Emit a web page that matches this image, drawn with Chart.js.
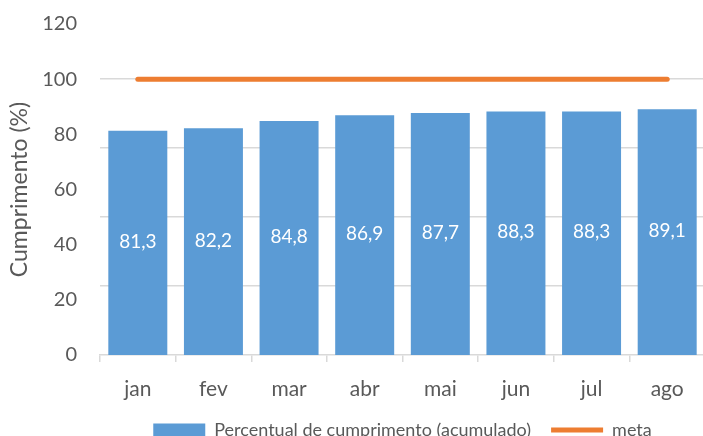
<!DOCTYPE html>
<html>
<head>
<meta charset="utf-8">
<script src="https://cdn.jsdelivr.net/npm/chart.js@4.4.1/dist/chart.umd.min.js"></script>
<style>
  html, body { margin: 0; padding: 0; background: #fff; overflow: hidden; }
  #wrap { position: relative; width: 710px; height: 449px; }
</style>
</head>
<body>
<div id="wrap"><canvas id="chart"></canvas></div>
<script>
// Données du graphique
const meses = ['jan', 'fev', 'mar', 'abr', 'mai', 'jun', 'jul', 'ago'];
const percentual = [81.3, 82.2, 84.8, 86.9, 87.7, 88.3, 88.3, 89.1];
const meta = [100, 100, 100, 100, 100, 100, 100, 100];
const gridValues = [25, 50, 75, 100];

const FONT = 'Lato, "DejaVu Sans", sans-serif';
const GREY = '#595959';

// Étiquettes de valeur au centre des barres
const barLabels = {
    id: 'barLabels',
    afterDatasetsDraw(chart) {
        const ctx = chart.ctx;
        const meta0 = chart.getDatasetMeta(0);
        ctx.save();
        ctx.font = '19px ' + FONT;
        ctx.fillStyle = '#fff';
        ctx.textAlign = 'center';
        ctx.textBaseline = 'middle';
        meta0.data.forEach((bar, i) => {
            const v = chart.data.datasets[0].data[i];
            ctx.fillText(v.toFixed(1).replace('.', ','), bar.x, (bar.y + bar.base) / 2 - 1);
        });
        ctx.restore();
    }
};

new Chart(document.getElementById('chart'), {
    data: {
        labels: meses,
        datasets: [{
            type: 'bar',
            label: 'Percentual de cumprimento (acumulado)',
            data: percentual,
            backgroundColor: '#5B9BD5',
            borderWidth: 0,
            pointStyle: 'rect',
            barPercentage: 0.78,
            categoryPercentage: 1
        }, {
            type: 'line',
            label: 'meta',
            data: meta,
            borderColor: '#ED7D31',
            backgroundColor: '#ED7D31',
            borderWidth: 5,
            borderCapStyle: 'round',
            pointRadius: 0,
            pointStyle: 'line'
        }]
    },
    options: {
        responsive: true,
        maintainAspectRatio: false,
        animation: false,
        layout: { padding: { top: 24, right: 5, left: 0, bottom: 0 } },
        plugins: {
            tooltip: { enabled: false },
            legend: {
                position: 'bottom',
                fullSize: false,
                labels: {
                    usePointStyle: true,
                    pointStyleWidth: 52,
                    boxHeight: 13,
                    padding: 20,
                    color: GREY,
                    font: { family: FONT, size: 18 }
                }
            }
        },
        scales: {
            x: {
                grid: {
                    drawOnChartArea: false,
                    tickLength: 7,
                    color: '#D9D9D9',
                    lineWidth: 1.5
                },
                border: { color: '#D9D9D9', width: 1.5 },
                ticks: { color: GREY, padding: 15, font: { family: FONT, size: 21 } },
                afterFit(axis) { axis.height = 46; }
            },
            y: {
                min: 0,
                max: 120,
                grid: { display: false, drawTicks: false },
                border: { display: false },
                ticks: { stepSize: 20, color: GREY, padding: 23, font: { family: FONT, size: 20 } },
                title: {
                    display: true,
                    text: 'Cumprimento (%)',
                    color: GREY,
                    padding: { top: 6, bottom: 0 },
                    font: { family: FONT, size: 23 }
                },
                afterFit(axis) {
                    axis.width = 100;
                    axis.paddingTop = 0;
                    axis.paddingBottom = 0;
                }
            },
            // grade secundária (linhas de grade do original)
            yg: {
                position: 'left',
                min: 0,
                max: 120,
                grid: { color: '#D9D9D9', lineWidth: 1.5, drawTicks: false },
                border: { display: false },
                ticks: { display: false },
                afterBuildTicks(axis) { axis.ticks = gridValues.map(v => ({ value: v })); },
                afterFit(axis) {
                    axis.width = 0;
                    axis.paddingTop = 0;
                    axis.paddingBottom = 0;
                }
            }
        }
    },
    plugins: [barLabels]
});
</script>
</body>
</html>
